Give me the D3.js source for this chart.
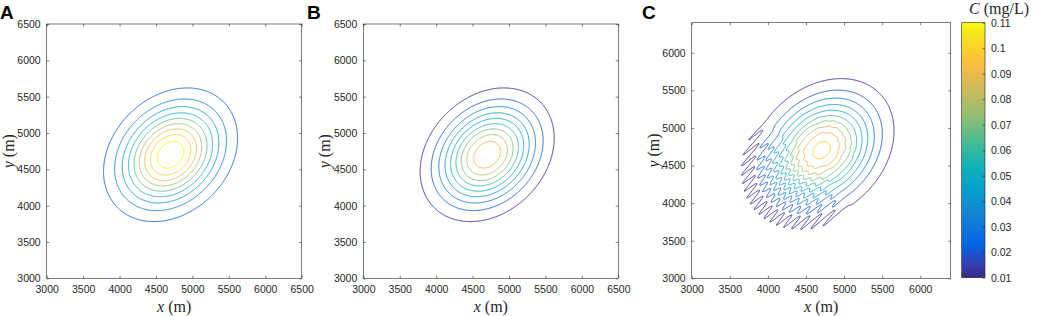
<!DOCTYPE html>
<html><head><meta charset="utf-8">
<script src="https://cdn.jsdelivr.net/npm/d3@7"></script>
<style>body{margin:0;background:#fff}svg{display:block}</style>
</head><body>
<svg id="chart" width="1038" height="316"></svg>
<script>
// ---------- data ----------
const panelLabels = ["A", "B", "C"];
const contourLevels = [0.01, 0.02, 0.03, 0.04, 0.05, 0.06, 0.07, 0.08, 0.09, 0.10];
const xDomains = [[3000, 6500], [3000, 6500], [3000, 6400]];
const yDomains = [[3000, 6500], [3000, 6500], [3000, 6400]];
const ticksAB = [3000, 3500, 4000, 4500, 5000, 5500, 6000, 6500];
const ticksC = [3000, 3500, 4000, 4500, 5000, 5500, 6000];
// plume parameters per panel (peak mg/L, centre m, spread m, tilt correlation)
const plumePeak = [0.0986, 0.0986, 0.1035];
const plumeCentreX = [4700, 4700, 4705];
const plumeCentreY = [4700, 4700, 4705];
const plumeSpread = [430, 430, 440];
const plumeTilt = [0.25, 0.25, 0.27];
// numerical oscillation seen in panel C (mg/L amplitude: outer fringe, core; wavelength m)
const rippleAmp = [0, 0, 0.0042];
const coreRippleAmp = [0, 0, 0.0009];
const rippleWave = [120, 120, 125];
const colourDomains = [[0, 0.09], [0.01, 0.11], [0.01, 0.11]];
const colorbarTicks = [0.01, 0.02, 0.03, 0.04, 0.05, 0.06, 0.07, 0.08, 0.09, 0.1, 0.11];
const colorbarDomain = [0.01, 0.11];
// parula colormap stops (every 4th of 64)
const parulaStops = [
  [0.2081,0.1663,0.5292],[0.1959,0.2645,0.7279],[0.0117,0.3875,0.8820],[0.0498,0.4586,0.8641],
  [0.0793,0.5200,0.8312],[0.0343,0.5966,0.8199],[0.0228,0.6535,0.7768],[0.0843,0.6928,0.7062],
  [0.2178,0.7250,0.6193],[0.3953,0.7459,0.5244],[0.5709,0.7485,0.4494],[0.7184,0.7411,0.3905],
  [0.8507,0.7299,0.3360],[0.9739,0.7314,0.2666],[0.9880,0.8066,0.1794],[0.9589,0.8949,0.1132],
  [0.9763,0.9831,0.0538]];

// ---------- layout ----------
const boxes = [
  {l: 46.7, r: 301.7, t: 24, b: 278.3},
  {l: 363.3, r: 618.3, t: 24, b: 278.3},
  {l: 691.7, r: 950.7, t: 22.7, b: 278.3}
];
const labelPos = [[0, 18.5], [307, 18.5], [642, 18.5]];
const cbar = {l: 961.7, r: 985, t: 22.7, b: 277.7};

const parulaPos = [0,4,8,12,16,20,24,28,32,36,40,44,48,52,56,60,63].map(i => i / 63);
const parulaScale = d3.scaleLinear().domain(parulaPos)
  .range(parulaStops.map(c => d3.rgb(c[0]*255, c[1]*255, c[2]*255)))
  .interpolate(d3.interpolateRgb).clamp(true);
const parula = t => parulaScale(Math.max(0, Math.min(1, t)));

const svg = d3.select("#chart");
const tickFont = "'Liberation Sans', Arial, sans-serif";
const serif = "'Liberation Serif', 'Times New Roman', serif";
const axisCol = "#262626";

function smoothstep(a, b, x) { const t = Math.max(0, Math.min(1, (x - a) / (b - a))); return t * t * (3 - 2 * t); }

panelLabels.forEach((lab, p) => {
  const bx = boxes[p];
  const xs = d3.scaleLinear().domain(xDomains[p]).range([bx.l, bx.r]);
  const ys = d3.scaleLinear().domain(yDomains[p]).range([bx.b, bx.t]);
  const g = svg.append("g");

  // field on grid
  const step = 8;
  const [x0, x1] = xDomains[p], [y0, y1] = yDomains[p];
  const nx = Math.round((x1 - x0) / step) + 1, ny = Math.round((y1 - y0) / step) + 1;
  const P = plumePeak[p], cx = plumeCentreX[p], cy = plumeCentreY[p], s = plumeSpread[p], rh = plumeTilt[p];
  const vals = new Float64Array(nx * ny);
  for (let j = 0; j < ny; j++) {
    const y = y0 + j * step;
    for (let i = 0; i < nx; i++) {
      const x = x0 + i * step;
      const dx = x - cx, dy = y - cy;
      const q = (dx*dx - 2*rh*dx*dy + dy*dy) / (s*s*(1 - rh*rh));
      let v = P * Math.exp(-q / 2);
      if (rippleAmp[p] > 0) {
        const r = Math.hypot(dx, dy) + 1e-9;
        const cosAng = -(dx + dy) / Math.SQRT2 / r;
        const w = smoothstep(0.2, 0.7, cosAng) * smoothstep(150, 650, r);
        const wc = smoothstep(120, 220, r) * (1 - smoothstep(350, 550, r));
        v += (rippleAmp[p] * w + coreRippleAmp[p] * wc) * Math.sin(2 * Math.PI * (x - y) / rippleWave[p]);
      }
      vals[j * nx + i] = v;
    }
  }
  const contours = d3.contours().size([nx, ny]).thresholds(contourLevels)(vals);
  const proj = d3.geoTransform({point: function(gx, gy) {
    this.stream.point(xs(x0 + (gx - 0.5) * step), ys(y0 + (gy - 0.5) * step));
  }});
  const path = d3.geoPath(proj);
  const cd = d3.scaleLinear().domain(colourDomains[p]).range([0, 1]);
  const clipId = "clip" + p;
  svg.append("clipPath").attr("id", clipId).append("rect")
    .attr("x", bx.l).attr("y", bx.t).attr("width", bx.r - bx.l).attr("height", bx.b - bx.t);
  g.append("g").attr("clip-path", `url(#${clipId})`).selectAll("path").data(contours).join("path")
    .attr("d", path).attr("fill", "none")
    .attr("stroke", d => parula(cd(d.value))).attr("stroke-width", 1.0).attr("stroke-opacity", 0.9)
    .attr("stroke-linejoin", "round");

  // box and ticks
  g.append("rect").attr("x", bx.l).attr("y", bx.t).attr("width", bx.r - bx.l).attr("height", bx.b - bx.t)
    .attr("fill", "none").attr("stroke", axisCol).attr("stroke-width", 0.6);
  const ticks = p === 2 ? ticksC : ticksAB;
  const tl = 2.6;
  const xAxisB = d3.axisBottom(xs).tickValues(ticks).tickSize(-tl).tickPadding(7).tickFormat(d3.format("d"));
  const xAxisT = d3.axisTop(xs).tickValues(ticks).tickSize(-tl).tickFormat("");
  const yAxisL = d3.axisLeft(ys).tickValues(ticks).tickSize(-tl).tickPadding(6).tickFormat(d3.format("d"));
  const yAxisR = d3.axisRight(ys).tickValues(ticks).tickSize(-tl).tickFormat("");
  [[xAxisB, `translate(0,${bx.b})`], [xAxisT, `translate(0,${bx.t})`],
   [yAxisL, `translate(${bx.l},0)`], [yAxisR, `translate(${bx.r},0)`]].forEach(([ax, tr]) => {
    const a = g.append("g").attr("transform", tr).call(ax);
    a.select(".domain").remove();
    a.selectAll("line").attr("stroke", axisCol).attr("stroke-width", 0.6);
    a.selectAll("text").attr("fill", axisCol).attr("font-family", tickFont).attr("font-size", 10.5);
  });

  // axis labels
  const xl = g.append("text").attr("x", (bx.l + bx.r) / 2).attr("y", 311.5).attr("text-anchor", "middle")
    .attr("font-family", serif).attr("font-size", 16).attr("fill", axisCol);
  xl.append("tspan").attr("font-style", "italic").text("x");
  xl.append("tspan").text(" (m)");
  const yl = g.append("text").attr("transform", `translate(${bx.l - 33},${(bx.t + bx.b) / 2}) rotate(-90)`)
    .attr("text-anchor", "middle").attr("font-family", serif).attr("font-size", 16).attr("fill", axisCol);
  yl.append("tspan").attr("font-style", "italic").text("y");
  yl.append("tspan").text(" (m)");

  // panel letter
  svg.append("text").attr("x", labelPos[p][0]).attr("y", labelPos[p][1]).text(lab)
    .attr("font-family", tickFont).attr("font-weight", "bold").attr("font-size", 19).attr("fill", "#000");
});

// ---------- colorbar ----------
const cs = d3.scaleLinear().domain(colorbarDomain).range([cbar.b, cbar.t]);
const grad = svg.append("defs").append("linearGradient").attr("id", "parulaGrad")
  .attr("x1", 0).attr("y1", 1).attr("x2", 0).attr("y2", 0);
d3.range(0, 1.0001, 1/63).forEach(t => grad.append("stop").attr("offset", t).attr("stop-color", parula(t)));
svg.append("rect").attr("x", cbar.l).attr("y", cbar.t).attr("width", cbar.r - cbar.l).attr("height", cbar.b - cbar.t)
  .attr("fill", "url(#parulaGrad)").attr("stroke", axisCol).attr("stroke-width", 0.6);
const cAx = svg.append("g").attr("transform", `translate(${cbar.r},0)`)
  .call(d3.axisRight(cs).tickValues(colorbarTicks).tickSize(-2.6).tickPadding(6).tickFormat(d => d3.format("~g")(+d.toFixed(2))));
cAx.select(".domain").remove();
cAx.selectAll("line").attr("stroke", axisCol).attr("stroke-width", 0.6);
cAx.selectAll("text").attr("fill", axisCol).attr("font-family", tickFont).attr("font-size", 10.5);
const ct = svg.append("text").attr("x", 999).attr("y", 13.5).attr("text-anchor", "middle")
  .attr("font-family", serif).attr("font-size", 16).attr("fill", axisCol);
ct.append("tspan").attr("font-style", "italic").text("C");
ct.append("tspan").text(" (mg/L)");
</script>
</body></html>
